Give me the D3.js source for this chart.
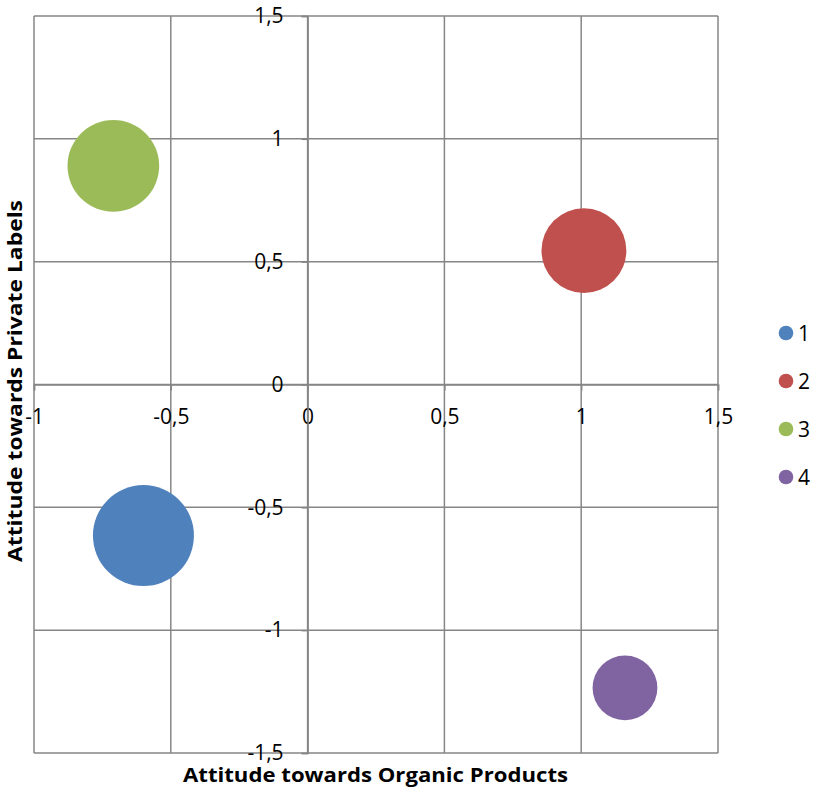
<!DOCTYPE html>
<html>
<head>
<meta charset="utf-8">
<script src="https://cdn.jsdelivr.net/npm/d3@7"></script>
<style>
  html, body { margin: 0; padding: 0; background: #fff; }
  svg { display: block; }
  text { font-family: "Open Sans", "Liberation Sans", sans-serif; fill: #000; }
</style>
</head>
<body>
<svg id="chart" width="814" height="788"></svg>
<script>
// Cluster segments: position on the two attitude dimensions, bubble size = segment share
const clusters = ["1", "2", "3", "4"];
const organicAttitude = [-0.60, 1.01, -0.71, 1.16];
const privateLabelAttitude = [-0.615, 0.545, 0.89, -1.235];
const segmentSize = [34, 24, 28, 14];
const colors = ["#4F81BD", "#C0504D", "#9BBB59", "#8064A2"];

const xTicks = [-1, -0.5, 0, 0.5, 1, 1.5];
const yTicks = [-1.5, -1, -0.5, 0, 0.5, 1, 1.5];

const svg = d3.select("#chart");
const plot = { left: 34, right: 718, top: 16, bottom: 753 };

const x = d3.scaleLinear().domain([-1, 1.5]).range([plot.left, plot.right]);
const y = d3.scaleLinear().domain([-1.5, 1.5]).range([plot.bottom, plot.top]);
const r = d3.scaleSqrt().domain([0, d3.max(segmentSize)]).range([0, 50.5]);

const fmt = v => String(v).replace(".", ",");
const gridColor = "#868686";

// Gridlines
const grid = svg.append("g");
grid.selectAll("line.vx").data(xTicks).join("line")
  .attr("x1", d => x(d)).attr("x2", d => x(d))
  .attr("y1", plot.top).attr("y2", plot.bottom)
  .attr("stroke", gridColor).attr("stroke-width", 1.5);
grid.selectAll("line.hy").data(yTicks).join("line")
  .attr("x1", plot.left).attr("x2", plot.right)
  .attr("y1", d => y(d)).attr("y2", d => y(d))
  .attr("stroke", gridColor).attr("stroke-width", 1.5);

// Axes crossing at the origin
const xAxis = d3.axisBottom(x).tickValues(xTicks).tickFormat(fmt).tickSize(6).tickPadding(20);
const yAxis = d3.axisLeft(y).tickValues(yTicks).tickFormat(fmt).tickSize(6).tickPadding(18);

const gx = svg.append("g").attr("transform", `translate(0,${y(0)})`).call(xAxis);
const gy = svg.append("g").attr("transform", `translate(${x(0)},0)`).call(yAxis);
[gx, gy].forEach(g => {
  g.select(".domain").attr("stroke", gridColor).attr("stroke-width", 1.5);
  g.selectAll(".tick line").attr("stroke", gridColor).attr("stroke-width", 1.5);
  g.selectAll(".tick text")
    .attr("font-family", "'Open Sans', sans-serif")
    .attr("font-size", 21).attr("fill", "#000");
});
gx.selectAll(".tick text").attr("dy", "0.32em").attr("y", 33);

// Bubbles
const data = clusters.map((c, i) => ({
  name: c, ox: organicAttitude[i], py: privateLabelAttitude[i],
  size: segmentSize[i], color: colors[i]
}));
svg.append("g").selectAll("circle").data(data).join("circle")
  .attr("cx", d => x(d.ox)).attr("cy", d => y(d.py))
  .attr("r", d => r(d.size)).attr("fill", d => d.color);

// Axis titles
svg.append("text")
  .attr("x", 375.5).attr("y", 782)
  .attr("text-anchor", "middle")
  .attr("font-size", 20).attr("font-weight", "bold")
  .attr("textLength", 385).attr("lengthAdjust", "spacingAndGlyphs")
  .text("Attitude towards Organic Products");

svg.append("text")
  .attr("transform", "translate(22,381) rotate(-90)")
  .attr("text-anchor", "middle")
  .attr("font-size", 20).attr("font-weight", "bold")
  .attr("textLength", 362).attr("lengthAdjust", "spacingAndGlyphs")
  .text("Attitude towards Private Labels");

// Legend
const legend = svg.append("g").selectAll("g").data(data).join("g")
  .attr("transform", (d, i) => `translate(786,${333 + i * 48})`);
legend.append("circle").attr("r", 7.3).attr("fill", d => d.color);
legend.append("text").attr("x", 12).attr("dy", "0.36em")
  .attr("font-size", 21).text(d => d.name);
</script>
</body>
</html>
